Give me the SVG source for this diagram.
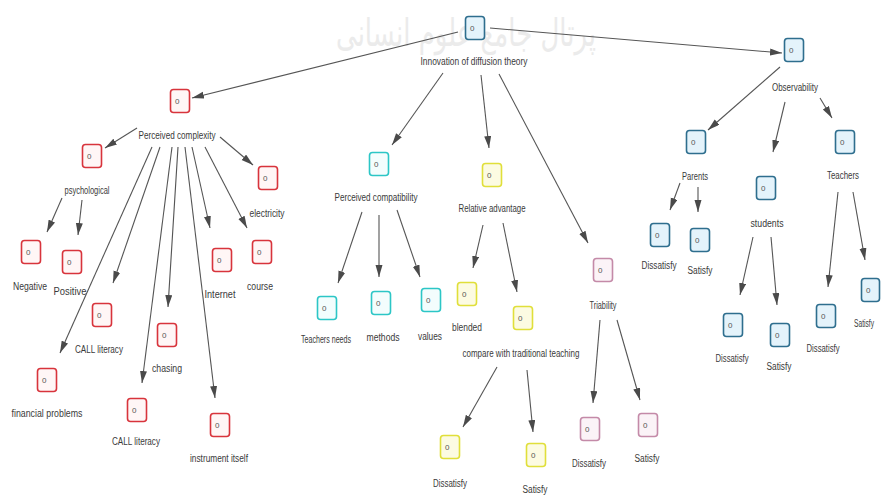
<svg xmlns="http://www.w3.org/2000/svg" width="881" height="497" viewBox="0 0 881 497">
<defs>
<marker id="ah" markerUnits="userSpaceOnUse" markerWidth="13" markerHeight="8" refX="12" refY="3.5" orient="auto">
<path d="M0,0 L12,3.5 L0,7 z" fill="#4a4a4a"/>
</marker>
</defs>
<style>
.e{stroke:#555;stroke-width:1.1;fill:none;marker-end:url(#ah)}
.ic{stroke-width:1.6}
.r{stroke:#d8343c;fill:#fff6f6}
.b{stroke:#2e6e8e;fill:#e4f3fb}
.c{stroke:#2cc6c6;fill:#f3fdfd}
.y{stroke:#e0df3a;fill:#fcfbe2}
.m{stroke:#c48aa8;fill:#fbf3f7}
.z{font-family:"Liberation Sans",Arial,sans-serif;font-size:8px;fill:#555}
.l{font-family:"Liberation Sans",Arial,sans-serif;font-size:10px;fill:#3a3a3a;text-anchor:middle}
.wm{font-family:"DejaVu Sans",sans-serif;font-size:38px;fill:#ebebeb;text-anchor:middle}
</style>
<rect width="881" height="497" fill="#ffffff"/>
<text class="wm" x="466" y="46" textLength="260" lengthAdjust="spacingAndGlyphs">پرتال جامع علوم انسانی</text>

<g id="connectors">
<line class="e" x1="458" y1="32" x2="192" y2="98"/>
<line class="e" x1="490" y1="28" x2="782" y2="53"/>
<line class="e" x1="443" y1="73" x2="392" y2="145"/>
<line class="e" x1="481" y1="75" x2="489" y2="148"/>
<line class="e" x1="499" y1="74" x2="588" y2="243"/>
<line class="e" x1="137" y1="128" x2="105" y2="148"/>
<line class="e" x1="220" y1="137" x2="253" y2="165"/>
<line class="e" x1="152" y1="147" x2="60" y2="353"/>
<line class="e" x1="160" y1="147" x2="113" y2="283"/>
<line class="e" x1="172" y1="147" x2="142" y2="383"/>
<line class="e" x1="178" y1="147" x2="168" y2="307"/>
<line class="e" x1="185" y1="147" x2="215" y2="398"/>
<line class="e" x1="192" y1="147" x2="210" y2="228"/>
<line class="e" x1="205" y1="147" x2="247" y2="228"/>
<line class="e" x1="62" y1="198" x2="47" y2="232"/>
<line class="e" x1="82" y1="200" x2="78" y2="235"/>
<line class="e" x1="362" y1="212" x2="338" y2="283"/>
<line class="e" x1="379" y1="215" x2="379" y2="277"/>
<line class="e" x1="397" y1="210" x2="420" y2="277"/>
<line class="e" x1="483" y1="225" x2="473" y2="268"/>
<line class="e" x1="503" y1="223" x2="517" y2="292"/>
<line class="e" x1="497" y1="367" x2="463" y2="427"/>
<line class="e" x1="527" y1="370" x2="533" y2="432"/>
<line class="e" x1="600" y1="320" x2="593" y2="403"/>
<line class="e" x1="617" y1="320" x2="640" y2="400"/>
<line class="e" x1="780" y1="67" x2="708" y2="130"/>
<line class="e" x1="785" y1="102" x2="773" y2="152"/>
<line class="e" x1="820" y1="98" x2="832" y2="118"/>
<line class="e" x1="680" y1="183" x2="670" y2="210"/>
<line class="e" x1="698" y1="187" x2="698" y2="212"/>
<line class="e" x1="753" y1="237" x2="740" y2="295"/>
<line class="e" x1="771" y1="237" x2="777" y2="305"/>
<line class="e" x1="838" y1="192" x2="828" y2="287"/>
<line class="e" x1="853" y1="192" x2="865" y2="260"/>
</g>

<g id="n-root"><rect class="ic b" x="465.5" y="16.5" width="19" height="23" rx="3"/><text class="z" x="470" y="31">0</text><text class="l" x="474" y="65" textLength="107" lengthAdjust="spacingAndGlyphs">Innovation of diffusion theory</text></g>

<g id="n-pcx"><rect class="ic r" x="170.5" y="89.5" width="19" height="23" rx="3"/><text class="z" x="175" y="104">0</text><text class="l" x="177" y="139" textLength="77" lengthAdjust="spacingAndGlyphs">Perceived complexity</text></g>
<g id="n-psy"><rect class="ic r" x="82.5" y="144.5" width="19" height="23" rx="3"/><text class="z" x="87" y="159">0</text><text class="l" x="87" y="194" textLength="45" lengthAdjust="spacingAndGlyphs">psychological</text></g>
<g id="n-neg"><rect class="ic r" x="21.5" y="240.5" width="19" height="23" rx="3"/><text class="z" x="26" y="255">0</text><text class="l" x="30" y="290" textLength="34" lengthAdjust="spacingAndGlyphs">Negative</text></g>
<g id="n-pos"><rect class="ic r" x="62.5" y="250.5" width="19" height="23" rx="3"/><text class="z" x="67" y="265">0</text><text class="l" x="70" y="295" textLength="33" lengthAdjust="spacingAndGlyphs">Positive</text></g>
<g id="n-call1"><rect class="ic r" x="92.5" y="303.5" width="19" height="23" rx="3"/><text class="z" x="97" y="318">0</text><text class="l" x="99" y="353" textLength="48" lengthAdjust="spacingAndGlyphs">CALL literacy</text></g>
<g id="n-fin"><rect class="ic r" x="37.5" y="368.5" width="19" height="23" rx="3"/><text class="z" x="42" y="383">0</text><text class="l" x="47" y="417" textLength="71" lengthAdjust="spacingAndGlyphs">financial problems</text></g>
<g id="n-chase"><rect class="ic r" x="157.5" y="323.5" width="19" height="23" rx="3"/><text class="z" x="162" y="338">0</text><text class="l" x="167" y="372" textLength="30" lengthAdjust="spacingAndGlyphs">chasing</text></g>
<g id="n-call2"><rect class="ic r" x="127.5" y="398.5" width="19" height="23" rx="3"/><text class="z" x="132" y="413">0</text><text class="l" x="136" y="445" textLength="48" lengthAdjust="spacingAndGlyphs">CALL literacy</text></g>
<g id="n-instr"><rect class="ic r" x="210.5" y="413.5" width="19" height="23" rx="3"/><text class="z" x="215" y="428">0</text><text class="l" x="219" y="462" textLength="58" lengthAdjust="spacingAndGlyphs">instrument itself</text></g>
<g id="n-inet"><rect class="ic r" x="212.5" y="248.5" width="19" height="23" rx="3"/><text class="z" x="217" y="263">0</text><text class="l" x="220" y="298" textLength="31" lengthAdjust="spacingAndGlyphs">Internet</text></g>
<g id="n-course"><rect class="ic r" x="252.5" y="240.5" width="19" height="23" rx="3"/><text class="z" x="257" y="255">0</text><text class="l" x="260" y="290" textLength="26" lengthAdjust="spacingAndGlyphs">course</text></g>
<g id="n-elec"><rect class="ic r" x="258.5" y="166.5" width="19" height="23" rx="3"/><text class="z" x="263" y="181">0</text><text class="l" x="267" y="217" textLength="35" lengthAdjust="spacingAndGlyphs">electricity</text></g>

<g id="n-pcomp"><rect class="ic c" x="369.5" y="152.5" width="19" height="23" rx="3"/><text class="z" x="374" y="167">0</text><text class="l" x="376" y="201" textLength="83" lengthAdjust="spacingAndGlyphs">Perceived compatibility</text></g>
<g id="n-tneeds"><rect class="ic c" x="317.5" y="296.5" width="19" height="23" rx="3"/><text class="z" x="322" y="311">0</text><text class="l" x="326" y="343" textLength="50" lengthAdjust="spacingAndGlyphs">Teachers needs</text></g>
<g id="n-meth"><rect class="ic c" x="371.5" y="291.5" width="19" height="23" rx="3"/><text class="z" x="376" y="306">0</text><text class="l" x="383" y="341" textLength="33" lengthAdjust="spacingAndGlyphs">methods</text></g>
<g id="n-val"><rect class="ic c" x="421.5" y="288.5" width="19" height="23" rx="3"/><text class="z" x="426" y="303">0</text><text class="l" x="430" y="340" textLength="24" lengthAdjust="spacingAndGlyphs">values</text></g>

<g id="n-ra"><rect class="ic y" x="482.5" y="163.5" width="19" height="23" rx="3"/><text class="z" x="487" y="178">0</text><text class="l" x="492" y="212" textLength="67" lengthAdjust="spacingAndGlyphs">Relative advantage</text></g>
<g id="n-blend"><rect class="ic y" x="457.5" y="282.5" width="19" height="23" rx="3"/><text class="z" x="462" y="297">0</text><text class="l" x="467" y="331" textLength="30" lengthAdjust="spacingAndGlyphs">blended</text></g>
<g id="n-cmp"><rect class="ic y" x="513.5" y="306.5" width="19" height="23" rx="3"/><text class="z" x="518" y="321">0</text><text class="l" x="521" y="357" textLength="117" lengthAdjust="spacingAndGlyphs">compare with traditional teaching</text></g>
<g id="n-cmp-d"><rect class="ic y" x="440.5" y="435.5" width="19" height="23" rx="3"/><text class="z" x="445" y="450">0</text><text class="l" x="450" y="487" textLength="34" lengthAdjust="spacingAndGlyphs">Dissatisfy</text></g>
<g id="n-cmp-s"><rect class="ic y" x="526.5" y="443.5" width="19" height="23" rx="3"/><text class="z" x="531" y="458">0</text><text class="l" x="535" y="493" textLength="25" lengthAdjust="spacingAndGlyphs">Satisfy</text></g>

<g id="n-tri"><rect class="ic m" x="593.5" y="258.5" width="19" height="23" rx="3"/><text class="z" x="598" y="273">0</text><text class="l" x="603" y="309" textLength="27" lengthAdjust="spacingAndGlyphs">Triability</text></g>
<g id="n-tri-d"><rect class="ic m" x="580.5" y="417.5" width="19" height="23" rx="3"/><text class="z" x="585" y="432">0</text><text class="l" x="589" y="467" textLength="34" lengthAdjust="spacingAndGlyphs">Dissatisfy</text></g>
<g id="n-tri-s"><rect class="ic m" x="638.5" y="413.5" width="19" height="23" rx="3"/><text class="z" x="643" y="428">0</text><text class="l" x="647" y="462" textLength="25" lengthAdjust="spacingAndGlyphs">Satisfy</text></g>

<g id="n-obs"><rect class="ic b" x="784.5" y="38.5" width="19" height="23" rx="3"/><text class="z" x="789" y="53">0</text><text class="l" x="795" y="91" textLength="46" lengthAdjust="spacingAndGlyphs">Observability</text></g>
<g id="n-par"><rect class="ic b" x="686.5" y="130.5" width="19" height="23" rx="3"/><text class="z" x="691" y="145">0</text><text class="l" x="695" y="180" textLength="26" lengthAdjust="spacingAndGlyphs">Parents</text></g>
<g id="n-par-d"><rect class="ic b" x="650.5" y="223.5" width="19" height="23" rx="3"/><text class="z" x="655" y="238">0</text><text class="l" x="659" y="269" textLength="35" lengthAdjust="spacingAndGlyphs">Dissatisfy</text></g>
<g id="n-par-s"><rect class="ic b" x="690.5" y="228.5" width="19" height="23" rx="3"/><text class="z" x="695" y="243">0</text><text class="l" x="700" y="274" textLength="25" lengthAdjust="spacingAndGlyphs">Satisfy</text></g>
<g id="n-stu"><rect class="ic b" x="756.5" y="176.5" width="19" height="23" rx="3"/><text class="z" x="761" y="191">0</text><text class="l" x="767" y="227" textLength="33" lengthAdjust="spacingAndGlyphs">students</text></g>
<g id="n-stu-d"><rect class="ic b" x="723.5" y="313.5" width="19" height="23" rx="3"/><text class="z" x="728" y="328">0</text><text class="l" x="732" y="362" textLength="33" lengthAdjust="spacingAndGlyphs">Dissatisfy</text></g>
<g id="n-stu-s"><rect class="ic b" x="770.5" y="323.5" width="19" height="23" rx="3"/><text class="z" x="775" y="338">0</text><text class="l" x="779" y="370" textLength="25" lengthAdjust="spacingAndGlyphs">Satisfy</text></g>
<g id="n-tea"><rect class="ic b" x="835.5" y="130.5" width="19" height="23" rx="3"/><text class="z" x="840" y="145">0</text><text class="l" x="843" y="179" textLength="32" lengthAdjust="spacingAndGlyphs">Teachers</text></g>
<g id="n-tea-d"><rect class="ic b" x="816.5" y="304.5" width="19" height="23" rx="3"/><text class="z" x="821" y="319">0</text><text class="l" x="823" y="352" textLength="33" lengthAdjust="spacingAndGlyphs">Dissatisfy</text></g>
<g id="n-tea-s"><rect class="ic b" x="861.5" y="278.5" width="18" height="23" rx="3"/><text class="z" x="866" y="293">0</text><text class="l" x="864" y="327" textLength="20" lengthAdjust="spacingAndGlyphs">Satisfy</text></g>
</svg>
